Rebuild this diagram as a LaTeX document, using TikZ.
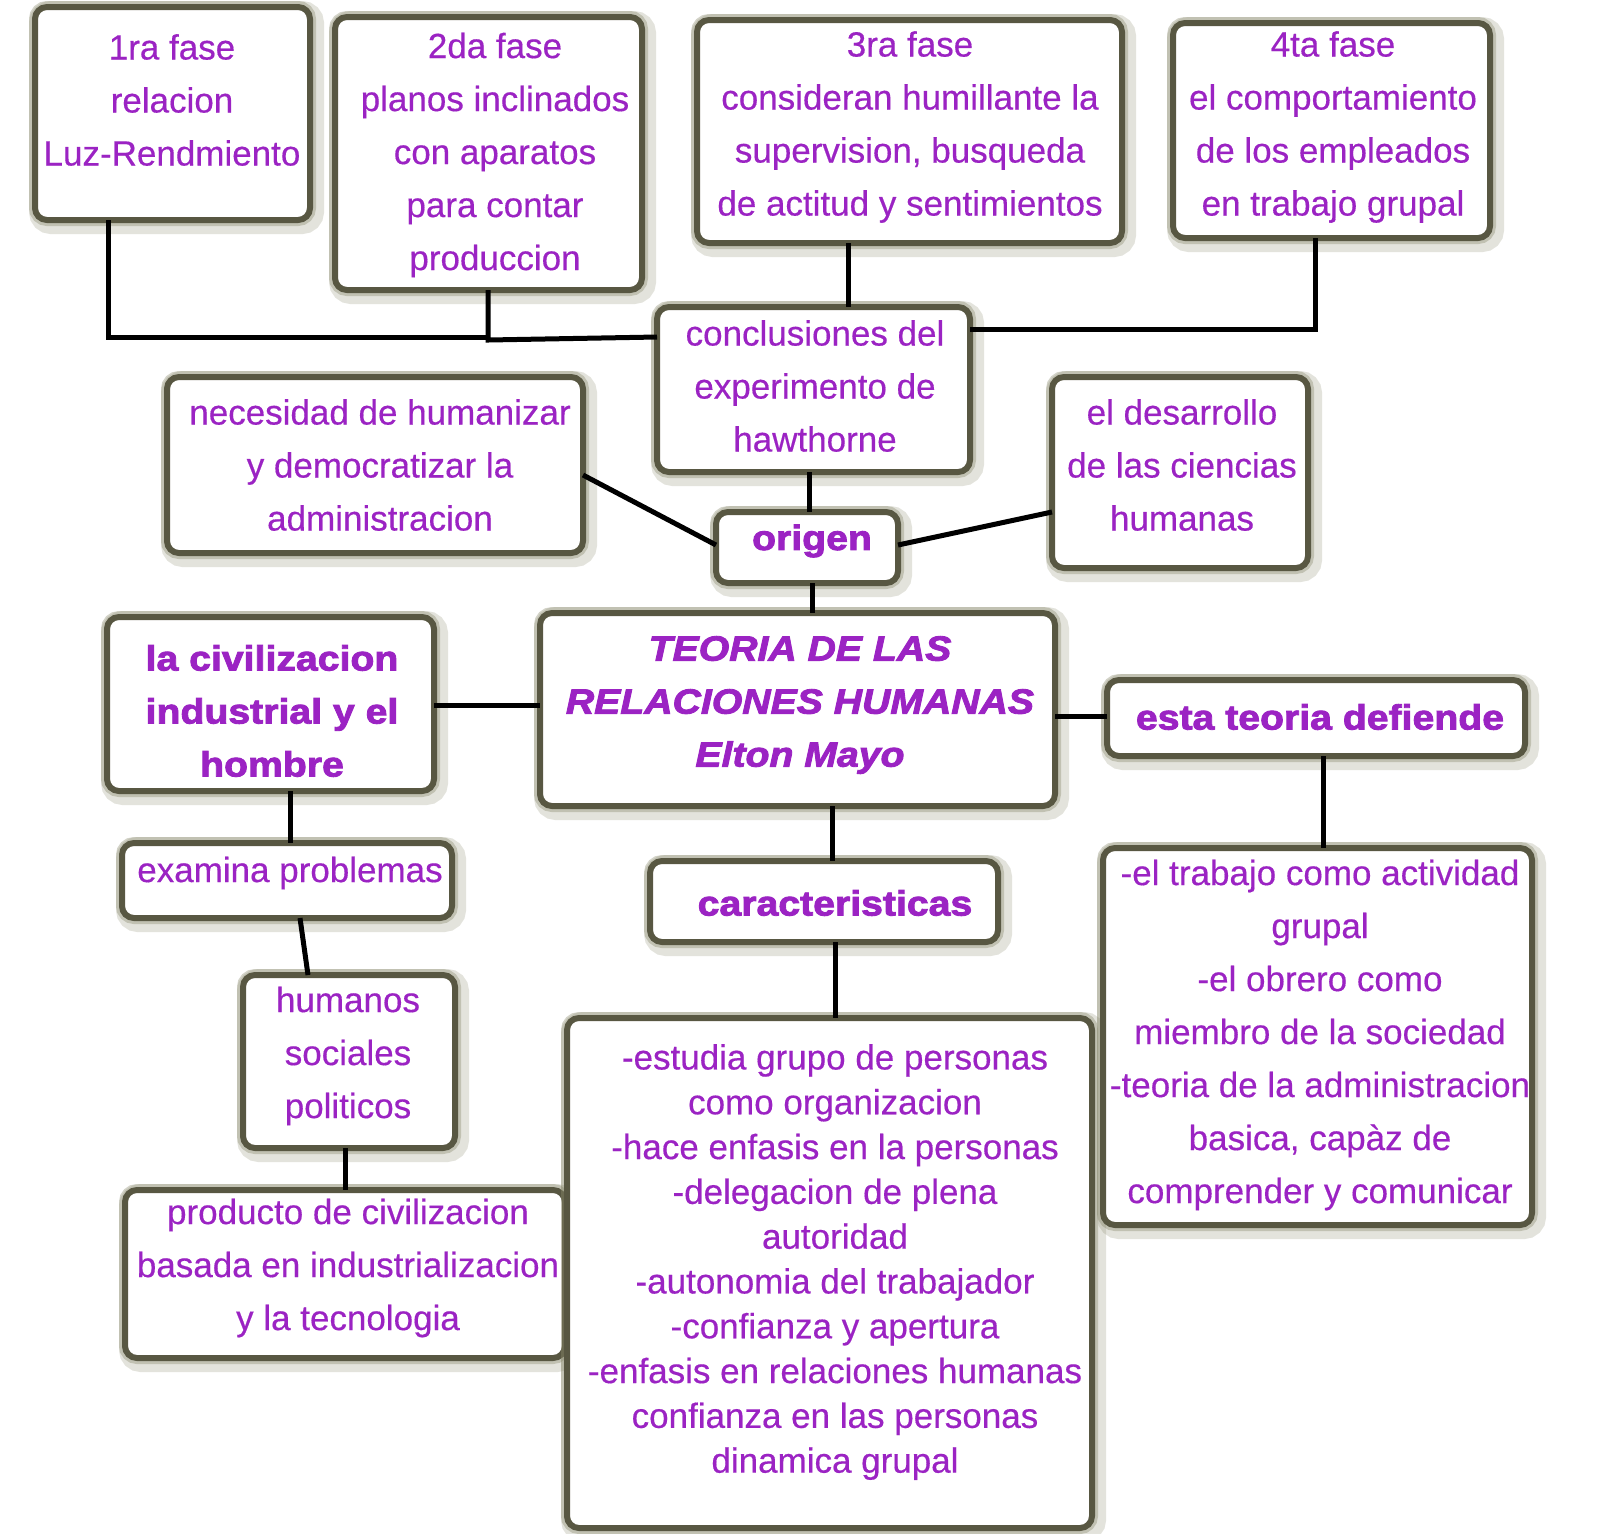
\documentclass[tikz,border=0pt]{standalone}
\usepackage{fontspec}
\setmainfont{Liberation Sans}[FakeBold=0.4]
\newfontfamily\heavy[FakeStretch=1.12,FakeBold=2.5]{Liberation Sans}
\usetikzlibrary{fit}
\definecolor{bordc}{RGB}{88,87,66}
\definecolor{glowc}{RGB}{130,130,100}
\definecolor{txtc}{RGB}{155,35,195}
\begin{document}
\begin{tikzpicture}[x=0.5pt,y=-0.5pt,
  box/.style={draw=bordc, line width=3pt, rounded corners=6pt, fill=white,
    inner sep=0pt, outer sep=0pt,
    preaction={draw=glowc, line width=10pt, opacity=0.22, transform canvas={xshift=2pt,yshift=-2pt}},
    preaction={draw=glowc, line width=6pt, opacity=0.35}},
  txt/.style={text=txtc, align=center, inner sep=0pt,
    font=\fontsize{17.5}{26.5}\selectfont},
  btxt/.style={text=txtc, align=center, inner sep=0pt,
    font=\heavy\bfseries\fontsize{17.5}{26.5}\selectfont},
  conn/.style={draw=black, line width=2.5pt}]
\fill[white] (0,0) rectangle (1600,1533);
\path[use as bounding box] (0,0) rectangle (1600,1533);

% boxes
\node[box, fit={(35,7) (310,220)}] (p1) {};
\node[box, fit={(335,17) (642,290)}] (p2) {};
\node[box, fit={(697,20) (1122,243)}] (p3) {};
\node[box, fit={(1173,23) (1490,238)}] (p4) {};
\node[box, fit={(657,307) (970,472)}] (concl) {};
\node[box, fit={(167,377) (583,553)}] (nec) {};
\node[box, fit={(1052,377) (1308,568)}] (desa) {};
\node[box, fit={(716,512) (898,583)}] (origen) {};
\node[box, fit={(540,613) (1055,806)}] (title) {};
\node[box, fit={(107,617) (434,791)}] (civ) {};
\node[box, fit={(1107,680) (1525,756)}] (defiende) {};
\node[box, fit={(122,843) (452,918)}] (examina) {};
\node[box, fit={(650,861) (998,942)}] (caract) {};
\node[box, fit={(243,975) (455,1148)}] (humanos) {};
\node[box, fit={(125,1190) (565,1358)}] (producto) {};
\node[box, fit={(567,1018) (1092,1528)}] (clist) {};
\node[box, fit={(1103,848) (1532,1225)}] (dlist) {};

% helper coordinates
\coordinate (a1) at (108,337);
\coordinate (j1) at (488,340);
\coordinate (a2) at (657,337);
\coordinate (a3) at (848,0);
\coordinate (a4) at (1315,329);
\coordinate (a5) at (809,0);
\coordinate (a6) at (0,475);
\coordinate (a7) at (0,545);
\coordinate (a8) at (0,512);
\coordinate (a9) at (812,0);
\coordinate (a10) at (0,705);
\coordinate (a11) at (0,716);
\coordinate (a12) at (832,0);
\coordinate (a13) at (835,0);
\coordinate (a14) at (1323,0);
\coordinate (a15) at (290,0);
\coordinate (a16) at (300,0);
\coordinate (a17) at (308,0);
\coordinate (a18) at (345,0);

% connectors
\draw[conn] (p1.south -| a1) -- (a1) -- (j1 |- a1);
\draw[conn] (p2.south -| j1) -- (j1) -- (concl.west |- a2);
\draw[conn] (p3.south -| a3) -- (concl.north -| a3);
\draw[conn] (p4.south -| a4) -- (a4) -- (concl.east |- a4);
\draw[conn] (concl.south -| a5) -- (origen.north -| a5);
\draw[conn] (nec.east |- a6) -- (origen.west |- a7);
\draw[conn] (desa.west |- a8) -- (origen.east |- a7);
\draw[conn] (origen.south -| a9) -- (title.north -| a9);
\draw[conn] (civ.east |- a10) -- (title.west |- a10);
\draw[conn] (title.east |- a11) -- (defiende.west |- a11);
\draw[conn] (title.south -| a12) -- (caract.north -| a12);
\draw[conn] (caract.south -| a13) -- (clist.north -| a13);
\draw[conn] (defiende.south -| a14) -- (dlist.north -| a14);
\draw[conn] (civ.south -| a15) -- (examina.north -| a15);
\draw[conn] (examina.south -| a16) -- (humanos.north -| a17);
\draw[conn] (humanos.south -| a18) -- (producto.north -| a18);

% texts
\node[txt] (t1) at (172,100) {1ra fase\\relacion\\Luz-Rendmiento};
\node[txt] (t2) at (495,155) {2da fase\\planos inclinados\\con aparatos\\para contar\\produccion};
\node[txt] (t3) at (910,127) {3ra fase\\consideran humillante la\\supervision, busqueda\\de actitud y sentimientos};
\node[txt] (t4) at (1333,127) {4ta fase\\el comportamiento\\de los empleados\\en trabajo grupal};
\node[txt] (tc) at (815,386) {conclusiones del\\experimento de\\hawthorne};
\node[txt] (tn) at (380,465) {necesidad de humanizar\\y democratizar la\\administracion};
\node[txt] (td) at (1182,465) {el desarrollo\\de las ciencias\\humanas};
\node[btxt] (to) at (812,541) {origen};
\node[btxt, font=\heavy\bfseries\itshape\fontsize{17.5}{26.5}\selectfont] (tt) at (800,705) {TEORIA DE LAS\\RELACIONES HUMANAS\\Elton Mayo};
\node[btxt] (tv) at (272,711) {la civilizacion\\industrial y el\\hombre};
\node[btxt] (tf) at (1320,717) {esta teoria defiende};
\node[txt] (te) at (290,873) {examina problemas};
\node[btxt] (tk) at (835,903) {caracteristicas};
\node[txt] (th) at (348,1056) {humanos\\sociales\\politicos};
\node[txt] (tp) at (348,1268) {producto de civilizacion\\basada en industrializacion\\y la tecnologia};
\node[txt, font=\fontsize{17.5}{22.4}\selectfont] (tl) at (835,1262) {-estudia grupo de personas\\como organizacion\\-hace enfasis en la personas\\-delegacion de plena\\autoridad\\-autonomia del trabajador\\-confianza y apertura\\-enfasis en relaciones humanas\\confianza en las personas\\dinamica grupal};
\node[txt] (tr) at (1320,1035) {-el trabajo como actividad\\grupal\\-el obrero como\\miembro de la sociedad\\-teoria de la administracion\\basica, cap\`az de\\comprender y comunicar};
\end{tikzpicture}
\end{document}
